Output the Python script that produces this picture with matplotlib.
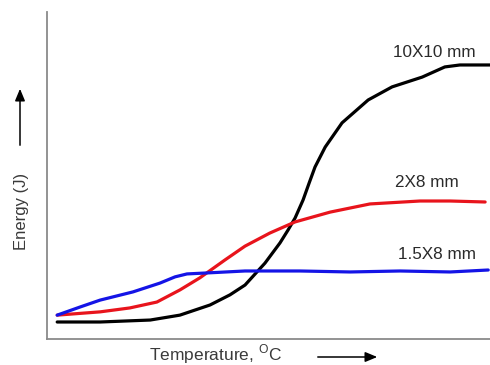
import matplotlib
matplotlib.use("Agg")
import matplotlib.pyplot as plt
from matplotlib.patches import FancyArrowPatch

plt.rcParams["font.family"] = ["Liberation Sans", "DejaVu Sans"]
plt.rcParams["mathtext.fontset"] = "custom"
plt.rcParams["mathtext.rm"] = "Liberation Sans"

# arbitrary units: temperature 0-100, energy 0-100
t_big = [2.3, 12.0, 23.3, 30.0, 36.8, 41.3, 44.7, 49.2, 52.6, 54.4, 56.0, 57.8,
         59.2, 60.5, 62.8, 66.6, 72.5, 77.9, 84.7, 89.8, 93.2, 100.0]
e_big = [5.2, 5.2, 5.8, 7.3, 10.4, 13.5, 16.5, 23.2, 29.4, 33.3, 37.0, 42.5,
         47.8, 52.6, 58.7, 66.1, 73.1, 77.1, 80.1, 83.2, 83.8, 83.8]

t_mid = [2.3, 12.0, 18.7, 24.8, 30.0, 34.5, 40.2, 44.7, 50.3, 56.0, 63.9,
         72.9, 84.2, 91.0, 98.9]
e_mid = [7.3, 8.3, 9.5, 11.3, 15.0, 18.7, 24.2, 28.4, 32.4, 35.8, 38.8,
         41.3, 42.2, 42.2, 41.9]

t_small = [2.3, 7.5, 12.0, 19.4, 25.5, 28.9, 31.6, 36.1, 44.7, 57.1, 68.4,
           79.7, 91.0, 99.6]
e_small = [7.3, 9.8, 11.9, 14.4, 17.1, 19.0, 19.9, 20.2, 20.8, 20.8, 20.5,
           20.8, 20.5, 21.1]

labels = ["10X10 mm", "2X8 mm", "1.5X8 mm"]
label_pos = [(87.5, 87.5), (85.8, 47.9), (88.0, 25.9)]

fig = plt.figure(figsize=(4.9, 3.65), dpi=100)
ax = fig.add_axes([47 / 490, 26 / 365, 443 / 490, 327 / 365])

lw = 2.3
style = dict(lw=lw, solid_joinstyle="round", solid_capstyle="round")
ax.plot(t_big, e_big, color="black", **style)
ax.plot(t_mid, e_mid, color="#e8141c", **style)
ax.plot(t_small, e_small, color="#1414e6", **style)

for text, (x, y) in zip(labels, label_pos):
    ax.text(x, y, text, ha="center", va="center", fontsize=12.3, color="#2a2a2a")

ax.set_xlim(0, 100)
ax.set_ylim(0, 100)
ax.set_xticks([])
ax.set_yticks([])
for side in ["top", "right"]:
    ax.spines[side].set_visible(False)
for side in ["left", "bottom"]:
    ax.spines[side].set_color("#8a8a8a")
    ax.spines[side].set_linewidth(1.3)

# axis labels with arrows
fig.text(22 / 490, 1 - 211 / 365, "Energy (J)", rotation=90, ha="center", va="center",
         fontsize=12, color="#3a3a3a")
fig.text(216 / 490, 1 - 360 / 365, r"Temperature, $^{\mathrm{O}}$C", ha="center", va="baseline",
         fontsize=12.5, color="#3a3a3a")
arrow = dict(arrowstyle="-|>,head_length=0.6,head_width=0.25", color="black", lw=1.1,
             mutation_scale=12, transform=fig.transFigure)
fig.add_artist(FancyArrowPatch((20 / 490, 1 - 148 / 365), (20 / 490, 1 - 86 / 365), **arrow))
fig.add_artist(FancyArrowPatch((315 / 490, 1 - 357 / 365), (380 / 490, 1 - 357 / 365), **arrow))

fig.savefig("out.png", dpi=100)
